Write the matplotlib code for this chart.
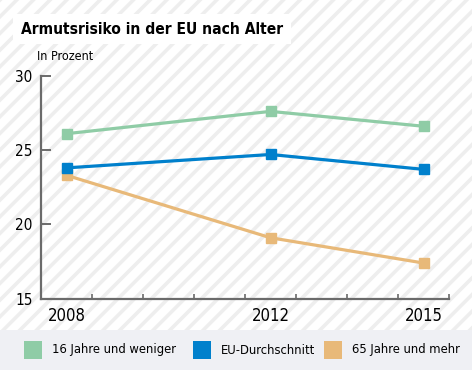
import matplotlib
matplotlib.use("Agg")
import matplotlib.pyplot as plt
from matplotlib.patches import Rectangle
from matplotlib import font_manager
from matplotlib.font_manager import FontProperties


def find_font(fname):
    for f in font_manager.fontManager.ttflist:
        if f.fname.endswith(fname):
            return f.fname
    return None


body_path = find_font('DejaVuSansCondensed.ttf')
title_path = find_font('OpenSansCondBold.ttf') or find_font('DejaVuSansCondensed-Bold.ttf')


def fp(size, path=None, weight='normal'):
    path = path or body_path
    if path:
        return FontProperties(fname=path, size=size)
    return FontProperties(family='DejaVu Sans', size=size, weight=weight)


plt.rcParams['hatch.linewidth'] = 2.6
plt.rcParams['hatch.color'] = '#eeeeee'

years = [2008, 2012, 2015]
young = [26.1, 27.6, 26.6]
eu_avg = [23.8, 24.7, 23.7]
old = [23.3, 19.1, 17.4]
labels = ["16 Jahre und weniger", "EU-Durchschnitt", "65 Jahre und mehr"]
colors = ["#8fcca6", "#0080cc", "#e8b979"]
title = "Armutsrisiko in der EU nach Alter"
unit = "In Prozent"

W, H = 472, 370
fig = plt.figure(figsize=(W / 100, H / 100), dpi=100)
fig.patch.set_facecolor('white')

bg = Rectangle((0, 0), 1, 1, transform=fig.transFigure, facecolor='white',
               edgecolor='#eeeeee', hatch='//', linewidth=0, zorder=-10)
fig.patches.append(bg)
band = Rectangle((0, 0), 1, 40 / H, transform=fig.transFigure, facecolor='#eff0f4',
                 edgecolor='none', zorder=-5)
fig.patches.append(band)

fig.text(21 / W, 1 - 29 / H, title, fontproperties=fp(11.2, title_path, 'bold'),
         va='center', ha='left',
         bbox=dict(facecolor='white', edgecolor='none', boxstyle='square,pad=0.5'))
fig.text(37 / W, 1 - 57 / H, unit, fontproperties=fp(9), va='center', ha='left')

ax = fig.add_axes([41 / W, 0.1927, 408 / W, 0.6027])
ax.set_facecolor('none')
ax.set_xlim(2007.5, 2015.5)
ax.set_ylim(15, 30)

series = [(young, colors[0]), (old, colors[2]), (eu_avg, colors[1])]
for vals, c in series:
    ax.plot(years, vals, color=c, lw=2.3, marker='s', ms=7.5, mec=c, mfc=c, zorder=3)

for s in ['top', 'right']:
    ax.spines[s].set_visible(False)
for s in ['left', 'bottom']:
    ax.spines[s].set_color('#6b6b6b')
    ax.spines[s].set_linewidth(1.6)

ax.set_yticks([15, 20, 25, 30])
ax.tick_params(axis='y', direction='in', length=7.5, width=1.4, color='#6b6b6b', pad=6)
ax.set_xticks(years)
ax.set_xticklabels([str(y) for y in years])
ax.tick_params(axis='x', which='major', length=0, pad=6)
for lab in ax.get_yticklabels():
    lab.set_fontproperties(fp(11))
for lab in ax.get_xticklabels():
    lab.set_fontproperties(fp(12))
ax.set_xticks([2008.5 + i for i in range(8)], minor=True)
ax.tick_params(axis='x', which='minor', direction='in', length=3.5, width=1.2, color='#6b6b6b')

lx = [24, 193, 324]
for x, lab, c in zip(lx, labels, colors):
    fig.patches.append(Rectangle((x / W, (370 - 359) / H), 18 / W, 18 / H,
                                 transform=fig.transFigure, facecolor=c, edgecolor='none'))
    fig.text((x + 28) / W, (370 - 350) / H, lab, fontproperties=fp(9.3), va='center', ha='left')

fig.savefig("out.png", dpi=100)
